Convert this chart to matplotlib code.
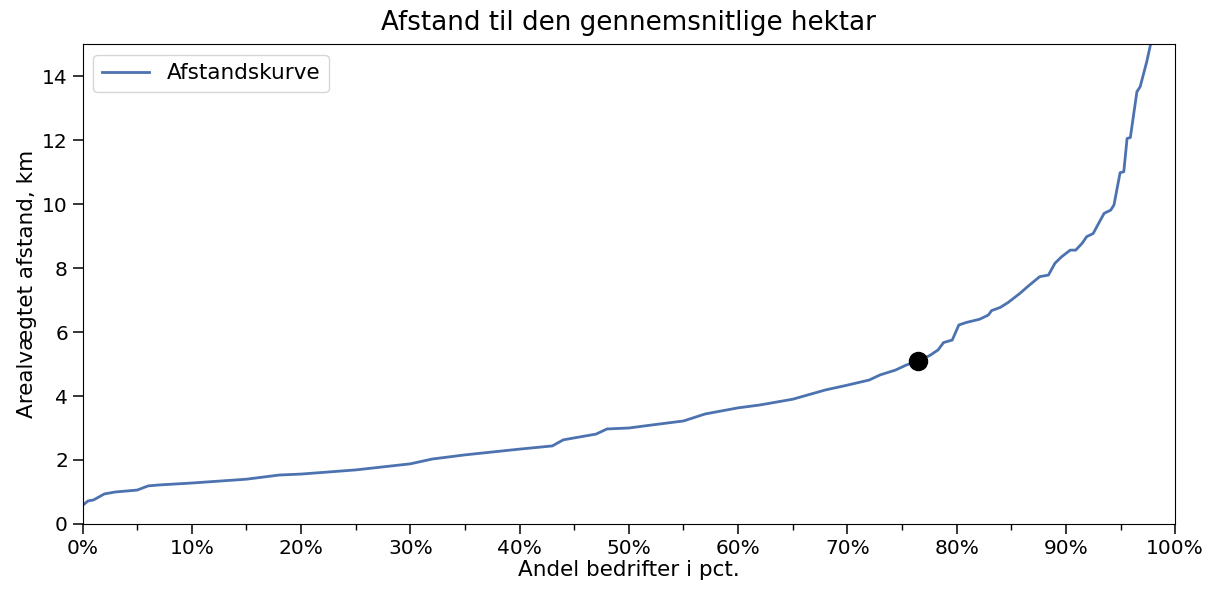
import matplotlib
matplotlib.use("Agg")
import matplotlib.pyplot as plt
from matplotlib.ticker import PercentFormatter, MultipleLocator

# andel bedrifter (pct.) og arealvægtet afstand (km), aflæst fra kurven
andel = [0.0, 0.5, 1.0, 2.0, 3.0, 5.0, 6.0, 7.0, 10.0, 15.0, 18.0, 20.0,
         25.0, 30.0, 32.0, 35.0, 40.0, 43.0, 44.0, 47.0, 48.0, 50.0, 52.0,
         55.0, 57.0, 60.0, 62.0, 65.0, 68.0, 70.0, 72.0, 73.0, 74.4, 75.4,
         76.6, 77.6, 78.3, 78.8, 79.6, 80.2, 80.9, 82.1, 82.9, 83.2, 84.0,
         84.7, 85.8, 86.5, 87.6, 88.4, 89.0, 89.6, 90.4, 90.9, 91.5, 91.9,
         92.5, 93.0, 93.5, 94.1, 94.4, 94.96, 95.3, 95.6, 95.9, 96.5, 96.8,
         97.4, 97.8, 98.0]
afstand = [0.58, 0.72, 0.75, 0.94, 1.0, 1.06, 1.19, 1.22, 1.28, 1.4, 1.53,
           1.56, 1.69, 1.88, 2.03, 2.16, 2.34, 2.44, 2.63, 2.81, 2.97, 3.0,
           3.09, 3.22, 3.44, 3.63, 3.72, 3.9, 4.19, 4.34, 4.5, 4.66, 4.81,
           4.97, 5.1, 5.28, 5.44, 5.67, 5.75, 6.22, 6.30, 6.40, 6.53, 6.67,
           6.77, 6.92, 7.21, 7.42, 7.73, 7.78, 8.15, 8.35, 8.56, 8.56, 8.78,
           8.98, 9.08, 9.40, 9.71, 9.81, 9.97, 10.98, 11.01, 12.05, 12.08,
           13.51, 13.67, 14.45, 15.07, 15.4]

punkt_x = 76.5
punkt_y = 5.1

fig = plt.figure(figsize=(12.14, 5.91), dpi=100)
ax = fig.add_axes([0.068, 0.1134, 0.9, 0.812])

ax.plot(andel, afstand, color="#4c72b0", lw=2, label="Afstandskurve")
ax.plot(punkt_x, punkt_y, "o", color="black", ms=13)

ax.set_xlim(0, 100)
ax.set_ylim(0, 15)
ax.set_xticks(range(0, 101, 10))
ax.xaxis.set_minor_locator(MultipleLocator(5))
ax.xaxis.set_major_formatter(PercentFormatter(decimals=0))
ax.tick_params(labelsize=14.5, length=7, width=1.1)
ax.tick_params(which="minor", length=4, width=1)
ax.set_xlabel("Andel bedrifter i pct.", fontsize=15.5, labelpad=2)
ax.set_ylabel("Arealvægtet afstand, km", fontsize=15.5)
ax.set_title("Afstand til den gennemsnitlige hektar", fontsize=18.8, pad=10)
ax.legend(loc="upper left", fontsize=15.5, handlelength=2.2)

fig.savefig("out.png", dpi=100)
